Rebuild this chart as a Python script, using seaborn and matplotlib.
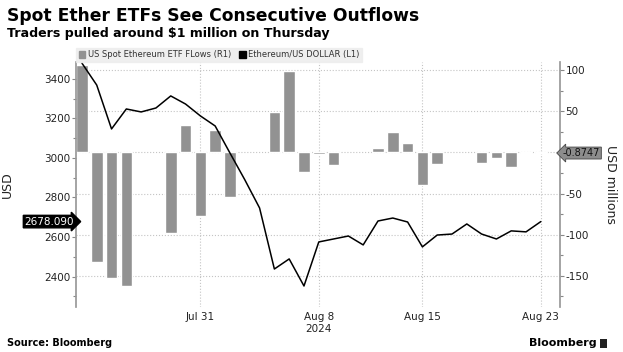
import pandas as pd
import matplotlib
matplotlib.use('Agg')
import matplotlib.pyplot as plt
import matplotlib.dates as mdates
from matplotlib.patches import Patch, Rectangle
from matplotlib.ticker import MultipleLocator
import seaborn as sns

# ETH/USD daily close (calendar days)
eth_dates = ['2024-07-23', '2024-07-24', '2024-07-25', '2024-07-26', '2024-07-27',
             '2024-07-28', '2024-07-29', '2024-07-30', '2024-07-31', '2024-08-01',
             '2024-08-02', '2024-08-03', '2024-08-04', '2024-08-05', '2024-08-06',
             '2024-08-07', '2024-08-08', '2024-08-09', '2024-08-10', '2024-08-11',
             '2024-08-12', '2024-08-13', '2024-08-14', '2024-08-15', '2024-08-16',
             '2024-08-17', '2024-08-18', '2024-08-19', '2024-08-20', '2024-08-21',
             '2024-08-22', '2024-08-23']
eth_price = [3480, 3369, 3147, 3248, 3233, 3253, 3314, 3273, 3213, 3162,
             3025, 2890, 2747, 2438, 2489, 2352, 2575, 2590, 2605, 2560,
             2681, 2696, 2676, 2550, 2610, 2615, 2666, 2615, 2590, 2631,
             2626, 2678.09]

# US spot ether ETF flows, USD millions (trading days)
flow_dates = ['2024-07-23', '2024-07-24', '2024-07-25', '2024-07-26', '2024-07-29',
              '2024-07-30', '2024-07-31', '2024-08-01', '2024-08-02', '2024-08-05',
              '2024-08-06', '2024-08-07', '2024-08-08', '2024-08-09', '2024-08-12',
              '2024-08-13', '2024-08-14', '2024-08-15', '2024-08-16', '2024-08-19',
              '2024-08-20', '2024-08-21', '2024-08-22', '2024-08-23']
flows = [106.6, -133.3, -152.3, -162.7, -98.3, 33.7, -77.2, 26.7, -54.3, 48.8,
         98.4, -23.7, -2.0, -15.7, 4.9, 24.3, 10.8, -39.2, -14.4, -13.5,
         -6.5, -17.3, -0.4, -0.8747]

tick_dates = ['2024-07-31', '2024-08-08', '2024-08-15', '2024-08-23']
tick_labels = ['Jul 31', 'Aug 8\n2024', 'Aug 15', 'Aug 23']

# right axis ticks; the 0 label sits under the value tag
flow_ticks = [-150, -100, -50, 0, 50, 100]
flow_tick_labels = ['-150', '-100', '-50', '', '50', '100']

df_eth = pd.DataFrame({'date': mdates.date2num(pd.to_datetime(eth_dates)), 'price': eth_price})
df_flow = pd.DataFrame({'date': mdates.date2num(pd.to_datetime(flow_dates)), 'flow': flows})
x0 = df_eth['date'].iloc[0]

sns.set_theme(style='white')
plt.rcParams['font.family'] = ['DejaVu Sans']

fig = plt.figure(figsize=(6.23, 3.52), dpi=100)
ax = fig.add_axes([0.122, 0.128, 0.777, 0.696])
ax_l = ax.twinx()

# bars -> right axis
sns.barplot(data=df_flow, x='date', y='flow', native_scale=True, width=0.78,
            color='#929292', saturation=1, errorbar=None, ax=ax, zorder=2)
ax.yaxis.tick_right()
ax.yaxis.set_label_position('right')
ax.set_ylim(-187.7, 109.7)
ax.set_yticks(flow_ticks)
ax.set_yticklabels(flow_tick_labels)
ax.yaxis.set_minor_locator(MultipleLocator(25))
ax.set_ylabel('USD millions', rotation=270, fontsize=9, color='#222', labelpad=20)
ax.set_xlabel('')

# line -> left axis
sns.lineplot(data=df_eth, x='date', y='price', color='black', lw=1.1, ax=ax_l)
ax_l.yaxis.tick_left()
ax_l.yaxis.set_label_position('left')
ax_l.set_ylim(2246, 3486)
ax_l.set_yticks([2400, 2600, 2800, 3000, 3200, 3400])
ax_l.yaxis.set_minor_locator(MultipleLocator(100))
ax_l.set_ylabel('USD', fontsize=9, color='#222', labelpad=22)
ax_l.set_xlabel('')

ax.set_xlim(x0 - 0.4, x0 + 32.3)
ax.set_xticks(mdates.date2num(pd.to_datetime(tick_dates)))
ax.set_xticklabels(tick_labels)

for a in (ax, ax_l):
    for s in a.spines.values():
        s.set_visible(False)
    a.tick_params(axis='y', which='major', length=3, width=0.8, color='#888',
                  labelsize=7.5, labelcolor='#222', pad=1)
    a.tick_params(axis='y', which='minor', length=2, width=0.8, color='#888', left=a is ax_l,
                  right=a is ax)
ax.spines['right'].set_visible(True)
ax.spines['right'].set_color('#999')
ax_l.spines['left'].set_visible(True)
ax_l.spines['left'].set_color('#999')
ax.tick_params(axis='x', length=0, labelsize=7.5, labelcolor='#222', pad=4)

ax.set_axisbelow(True)
ax.grid(axis='both', which='major', linestyle=':', color='#c4c4c4', lw=0.8)

# value tags
ax_l.text(-0.004, eth_price[-1], f'{eth_price[-1]:.3f}', transform=ax_l.get_yaxis_transform(),
          ha='right', va='center', fontsize=7.5, color='white', clip_on=False, zorder=5,
          bbox=dict(boxstyle='rarrow,pad=0.12', fc='black', ec='black'))
ax.text(1.006, flows[-1], f'{flows[-1]:.4f}', transform=ax.get_yaxis_transform(),
        ha='left', va='center', fontsize=7, color='#111', clip_on=False, zorder=5,
        bbox=dict(boxstyle='larrow,pad=0.1', fc='#8c8c8c', ec='#444', lw=0.6))

# legend
handles = [Patch(color='#929292', label='US Spot Ethereum ETF FLows (R1)'),
           Patch(color='black', label='Ethereum/US DOLLAR (L1)')]
leg = ax_l.legend(handles=handles, loc='lower left', bbox_to_anchor=(0, 1.0), ncol=2,
                  fontsize=6, frameon=True, facecolor='#ececec', edgecolor='#ececec',
                  handlelength=0.8, handleheight=0.8, handletextpad=0.3, columnspacing=1.0,
                  borderpad=0.3, borderaxespad=0, fancybox=False)
for t in leg.get_texts():
    t.set_color('#333')

fig.text(0.011, 0.955, 'Spot Ether ETFs See Consecutive Outflows', fontsize=12.3,
         fontweight='bold', va='center', ha='left', color='black')
fig.text(0.011, 0.905, 'Traders pulled around $1 million on Thursday', fontsize=9.1,
         fontweight='bold', va='center', ha='left', color='black')
fig.text(0.011, 0.025, 'Source: Bloomberg', fontsize=7, fontweight='bold',
         va='center', ha='left', color='black')
fig.text(0.958, 0.025, 'Bloomberg', fontsize=8, fontweight='bold', va='center',
         ha='right', color='black')
fig.add_artist(Rectangle((0.963, 0.012), 0.011, 0.026, transform=fig.transFigure,
                         fc='#222', ec='none'))

fig.savefig('out.png', dpi=100)
